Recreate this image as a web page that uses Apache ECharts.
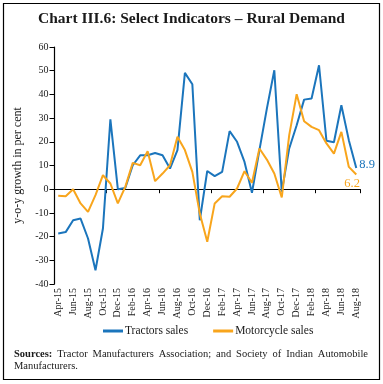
<!DOCTYPE html>
<html><head><meta charset="utf-8">
<script src="https://cdn.jsdelivr.net/npm/echarts@6/dist/echarts.min.js"></script>
<style>html,body{margin:0;padding:0;background:#fff}#c{width:383px;height:384px}</style>
</head><body><div id="c"></div>
<script>
const months = ['Apr-15','May-15','Jun-15','Jul-15','Aug-15','Sep-15','Oct-15','Nov-15','Dec-15','Jan-16','Feb-16','Mar-16',
'Apr-16','May-16','Jun-16','Jul-16','Aug-16','Sep-16','Oct-16','Nov-16','Dec-16','Jan-17','Feb-17','Mar-17',
'Apr-17','May-17','Jun-17','Jul-17','Aug-17','Sep-17','Oct-17','Nov-17','Dec-17','Jan-18','Feb-18','Mar-18',
'Apr-18','May-18','Jun-18','Jul-18','Aug-18'];
const tractors = [-18.7,-18.1,-13.1,-12.4,-20.8,-34.2,-16.6,29.5,0,0.5,10.1,14.3,
14.3,15.3,14.3,8.7,16.5,49.1,44.3,-13.1,7.7,5.5,7.3,24.5,
20.0,11.5,-1.5,16.5,34.0,50.2,-1.0,17.2,27.0,37.8,38.3,52.3,
20.4,19.8,35.4,20.7,8.9];
const motorcycles = [-2.8,-3.0,0,-6.0,-9.6,-2.5,5.9,2.4,-6.0,1.0,11.1,10.1,
16.0,3.4,6.6,10.1,22.1,16.5,7.3,-10.3,-22.2,-6.0,-3.0,-3.2,
0.3,7.6,2.7,17.2,12.5,6.6,-3.5,22.8,40.1,28.7,26.3,24.9,
19.3,15.0,24.2,9.4,6.2];
const seriesNames = ['Tractors sales','Motorcycle sales'];
const yTicks = {min:-40, max:60, interval:10};
const sourceLine1 = ['Sources:','Tractor','Manufacturers','Association;','and','Society','of','Indian','Automobile'];
const sourceLine2 = 'Manufacturers.';

const serif = '"Liberation Serif", "DejaVu Serif", serif';
const blue = '#1b75bc', orange = '#f8a51c';

// justified source line
const srcFont = '10.5px ' + serif, srcBold = 'bold 10.5px ' + serif;
const ctx = document.createElement('canvas').getContext('2d');
const widths = sourceLine1.map((w, i) => { ctx.font = i === 0 ? srcBold : srcFont; return ctx.measureText(w).width; });
const x0 = 14, x1 = 368;
const gap = (x1 - x0 - widths.reduce((a, b) => a + b, 0)) / (sourceLine1.length - 1);
let cx = x0;
const srcGraphics = sourceLine1.map((w, i) => {
  const g = {type: 'text', x: cx, y: 349, style: {text: w, font: i === 0 ? srcBold : srcFont, fill: '#1a1a1a'}};
  cx += widths[i] + gap;
  return g;
});
srcGraphics.push({type: 'text', x: x0, y: 361, style: {text: sourceLine2, font: srcFont, fill: '#1a1a1a'}});

const chart = echarts.init(document.getElementById('c'));
chart.setOption({
  animation: false,
  grid: {left: 54.5, right: 23, top: 47, bottom: 100},
  graphic: [
    {type: 'rect', shape: {x: 3.5, y: 3.5, width: 376, height: 376}, style: {fill: 'none', stroke: '#000', lineWidth: 1.2}, silent: true},
    {type: 'text', left: 'center', top: 11, style: {text: 'Chart III.6: Select Indicators – Rural Demand', font: 'bold 15.5px ' + serif, fill: '#1a1a1a'}}
  ].concat(srcGraphics),
  legend: {
    top: 320, left: 98, itemGap: 25, itemWidth: 20, itemHeight: 3, icon: 'rect',
    textStyle: {fontFamily: serif, fontSize: 11.5, color: '#1a1a1a', padding: [0, 0, 0, -3]},
    data: seriesNames
  },
  xAxis: [
    {type: 'category', data: months, boundaryGap: true,
     axisLine: {onZero: true, lineStyle: {color: '#000', width: 1.2}},
     axisTick: {show: true, length: 4, lineStyle: {color: '#000'}},
     axisLabel: {show: false}},
    {type: 'category', data: months, boundaryGap: true, position: 'bottom',
     axisLine: {show: false}, axisTick: {show: false},
     axisLabel: {rotate: 90, interval: 1, fontFamily: serif, fontSize: 10, color: '#1a1a1a', margin: 4}}
  ],
  yAxis: {
    type: 'value', min: yTicks.min, max: yTicks.max, interval: yTicks.interval,
    name: 'y-o-y growth in per cent', nameLocation: 'middle', nameGap: 25,
    nameTextStyle: {fontFamily: serif, fontSize: 12, color: '#1a1a1a'},
    axisLine: {show: true, lineStyle: {color: '#000', width: 1.2}},
    axisTick: {show: true, length: 5, lineStyle: {color: '#000'}},
    splitLine: {show: false},
    axisLabel: {fontFamily: serif, fontSize: 10, color: '#1a1a1a', margin: 6}
  },
  series: [
    {name: seriesNames[0], type: 'line', data: tractors, symbol: 'none', xAxisIndex: 0,
     lineStyle: {color: blue, width: 2}, itemStyle: {color: blue},
     endLabel: {show: true, formatter: p => String(p.value), color: blue, fontFamily: serif, fontSize: 12.5, distance: 3, offset: [0, -3]}},
    {name: seriesNames[1], type: 'line', data: motorcycles, symbol: 'none', xAxisIndex: 0,
     lineStyle: {color: orange, width: 2}, itemStyle: {color: orange},
     endLabel: {show: true, formatter: p => String(p.value), color: orange, fontFamily: serif, fontSize: 12.5, distance: 3, offset: [-15, 9]}}
  ]
});
</script></body></html>
